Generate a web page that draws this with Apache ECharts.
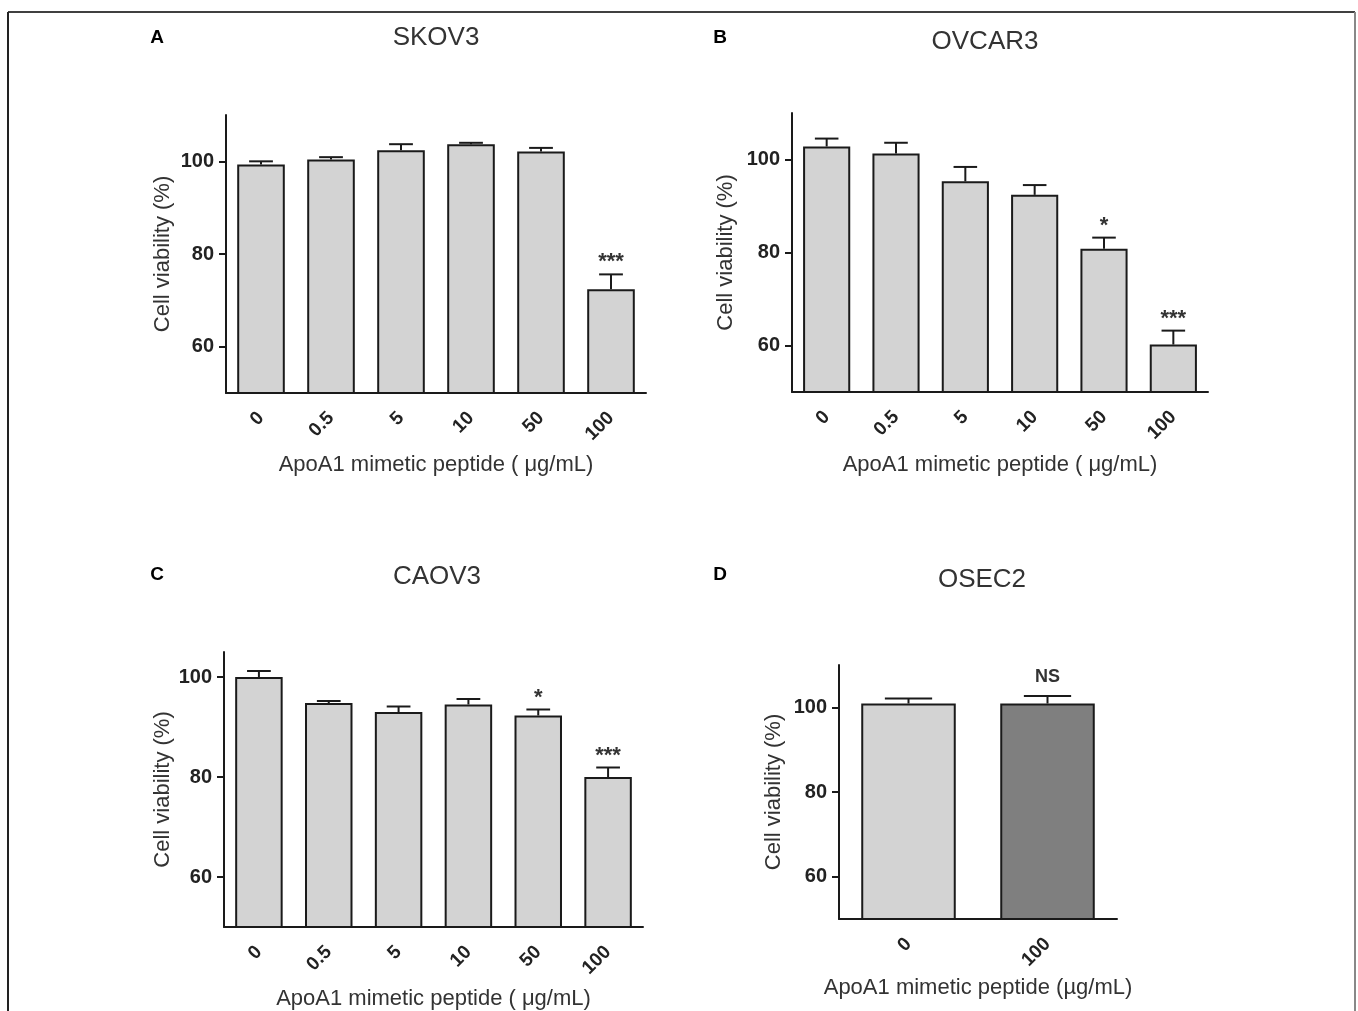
<!DOCTYPE html>
<html><head><meta charset="utf-8">
<script src="https://cdn.jsdelivr.net/npm/echarts@6/dist/echarts.min.js"></script>
<style>html,body{margin:0;padding:0;background:#fff}#c{width:1358px;height:1011px}</style>
</head><body><div id="c"></div>
<script>
// ---- data ----
const doseCategories = ['0', '0.5', '5', '10', '50', '100'];
const osecCategories = ['0', '100'];
const yTickValues = [60, 80, 100];

const skov3Mean = [99.3, 100.4, 102.4, 103.7, 102.1, 72.4];
const skov3Err  = [0.7, 0.5, 1.3, 0.3, 0.8, 3.2];
const skov3Sig  = ['', '', '', '', '', '***'];

const ovcar3Mean = [102.8, 101.3, 95.3, 92.4, 80.8, 60.2];
const ovcar3Err  = [1.7, 2.3, 3.1, 2.1, 2.4, 3.0];
const ovcar3Sig  = ['', '', '', '', '*', '***'];

const caov3Mean = [100.0, 94.8, 93.0, 94.5, 92.3, 80.0];
const caov3Err  = [1.2, 0.4, 1.1, 1.1, 1.2, 1.9];
const caov3Sig  = ['', '', '', '', '*', '***'];

const osec2Mean = [100.9, 100.9];
const osec2Err  = [1.2, 1.8];
const osec2Sig  = ['', 'NS'];

// ---- styles / layout ----
const lightFill = '#d3d3d3';
const darkFill = '#7f7f7f';
const ink = '#1a1a1a';
const textCol = '#333333';

const panels = [
  {letter: 'A', title: 'SKOV3', cats: doseCategories, mean: skov3Mean, err: skov3Err, sig: skov3Sig,
   yMin: 50, yMax: 110, grid: {left: 226, top: 115, width: 420, height: 278}, yGap: 52, xGap: 61,
   xName: 'ApoA1 mimetic peptide ( μg/mL)', fills: [lightFill],
   titlePos: [436, 38], letterPos: [157, 38]},
  {letter: 'B', title: 'OVCAR3', cats: doseCategories, mean: ovcar3Mean, err: ovcar3Err, sig: ovcar3Sig,
   yMin: 50, yMax: 110, grid: {left: 792, top: 113, width: 416, height: 279}, yGap: 55, xGap: 62,
   xName: 'ApoA1 mimetic peptide ( μg/mL)', fills: [lightFill],
   titlePos: [985, 42], letterPos: [720, 38]},
  {letter: 'C', title: 'CAOV3', cats: doseCategories, mean: caov3Mean, err: caov3Err, sig: caov3Sig,
   yMin: 50, yMax: 105, grid: {left: 224, top: 652, width: 419, height: 278}, yGap: 50, xGap: 61,
   xName: 'ApoA1 mimetic peptide ( μg/mL)', fills: [lightFill],
   titlePos: [437, 577], letterPos: [157, 575]},
  {letter: 'D', title: 'OSEC2', cats: osecCategories, mean: osec2Mean, err: osec2Err, sig: osec2Sig,
   yMin: 50, yMax: 110, grid: {left: 839, top: 665, width: 278, height: 254}, yGap: 54, xGap: 58,
   xName: 'ApoA1 mimetic peptide (µg/mL)', fills: [lightFill, darkFill],
   titlePos: [982, 580], letterPos: [720, 575]}
];

const grids = [], xAxes = [], yAxes = [], series = [], graphics = [];

panels.forEach((p, k) => {
  grids.push(Object.assign({containLabel: false}, p.grid));
  xAxes.push({
    type: 'category', gridIndex: k, data: p.cats,
    name: p.xName, nameLocation: 'middle', nameGap: p.xGap,
    nameTextStyle: {fontFamily: 'Liberation Sans', fontSize: 22, color: textCol},
    axisLine: {lineStyle: {color: ink, width: 2}},
    axisTick: {alignWithLabel: true, length: 7, lineStyle: {color: ink, width: 2}},
    axisLabel: {rotate: 45, margin: 22, fontFamily: 'Liberation Sans', fontWeight: 'bold', fontSize: 19, color: '#222'},
    splitLine: {show: false}
  });
  yAxes.push({
    type: 'value', gridIndex: k, min: p.yMin, max: p.yMax,
    name: 'Cell viability (%)', nameLocation: 'middle', nameGap: p.yGap,
    nameTextStyle: {fontFamily: 'Liberation Sans', fontSize: 22, color: textCol},
    axisLine: {show: true, lineStyle: {color: ink, width: 2}},
    axisTick: {show: true, length: 7, customValues: yTickValues, lineStyle: {color: ink, width: 2}},
    axisLabel: {customValues: yTickValues, margin: 12, fontFamily: 'Liberation Sans', fontWeight: 'bold', fontSize: 20, color: '#222'},
    splitLine: {show: false}
  });
  series.push({
    type: 'bar', xAxisIndex: k, yAxisIndex: k, barWidth: '68%',
    data: p.mean.map((v, i) => ({value: v, itemStyle: {color: p.fills[i % p.fills.length]}})),
    itemStyle: {borderColor: ink, borderWidth: 2},
    clip: true, silent: true
  });
  series.push({
    type: 'custom', xAxisIndex: k, yAxisIndex: k, clip: false, silent: true,
    encode: {x: 0, y: 1},
    data: p.mean.map((v, i) => [i, v, p.err[i]]),
    renderItem: function (params, api) {
      const i = api.value(0), m = api.value(1), e = api.value(2);
      const b = api.coord([i, m]);
      const t = api.coord([i, m + e]);
      const band = api.size([1, 0])[0];
      const half = band * 0.17;
      const children = [
        {type: 'line', shape: {x1: b[0], y1: b[1], x2: t[0], y2: t[1]}, style: {stroke: ink, lineWidth: 2}},
        {type: 'line', shape: {x1: t[0] - half, y1: t[1], x2: t[0] + half, y2: t[1]}, style: {stroke: ink, lineWidth: 2}}
      ];
      const s = p.sig[params.dataIndex];
      if (s) {
        const isStar = s.indexOf('*') >= 0;
        children.push({type: 'text', x: t[0], y: t[1] - (isStar ? 12 : 19),
          style: {text: s, textAlign: 'center', textVerticalAlign: 'middle',
            font: isStar ? 'bold 22px "Liberation Sans"' : 'bold 18px "Liberation Sans"',
            fill: '#333'}});
      }
      return {type: 'group', children: children};
    }
  });
  graphics.push({type: 'text', x: p.titlePos[0], y: p.titlePos[1],
    style: {text: p.title, textAlign: 'center', textVerticalAlign: 'middle', font: '26px "Liberation Sans"', fill: textCol}});
  graphics.push({type: 'text', x: p.letterPos[0], y: p.letterPos[1],
    style: {text: p.letter, textAlign: 'center', textVerticalAlign: 'middle', font: 'bold 19px "Liberation Sans"', fill: '#000'}});
});

// outer frame
graphics.push({type: 'line', shape: {x1: 8, y1: 12, x2: 1355, y2: 12}, style: {stroke: '#000', lineWidth: 1.5}});
graphics.push({type: 'line', shape: {x1: 8, y1: 12, x2: 8, y2: 1011}, style: {stroke: '#222', lineWidth: 2}});
graphics.push({type: 'line', shape: {x1: 1355, y1: 12, x2: 1355, y2: 1011}, style: {stroke: '#888', lineWidth: 2}});

const chart = echarts.init(document.getElementById('c'), null, {renderer: 'canvas'});
chart.setOption({
  animation: false,
  backgroundColor: '#fff',
  grid: grids, xAxis: xAxes, yAxis: yAxes, series: series,
  graphic: graphics
});
</script></body></html>
